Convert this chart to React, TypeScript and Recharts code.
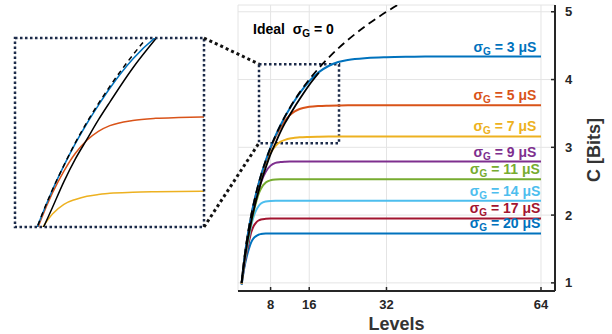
import React from 'react';
import { LineChart, Line, XAxis, YAxis, CartesianGrid, ReferenceArea } from 'recharts';

// quantization levels (x) and capacity in bits (y)
const levels = [2, 2.5, 3, 3.5, 4, 4.5, 5, 5.5, 6, 7, 8, 9, 10, 11, 12, 13, 14, 16, 18, 20, 22, 24, 28, 32, 36, 40, 48, 56, 64];

const ideal = [1, 1.32, 1.585, 1.807, 2, 2.17, 2.32, 2.46, 2.585, 2.807, 3, 3.17, 3.32, 3.46, 3.585, 3.7, 3.807, 4, 4.17, 4.32, 4.46, 4.585, 4.807, 5, 5.17, 5.32, 5.585, 5.807, 6];
const measured = [1, 1.28, 1.52, 1.73, 1.91, 2.07, 2.22, 2.35, 2.48, 2.7, 2.9, 3.06, 3.22, 3.36, 3.48, 3.6, 3.71, 3.92, 4.1, null, null, null, null, null, null, null, null, null, null];

const sigma3 = [1, 1.32, 1.584, 1.806, 2, 2.17, 2.32, 2.46, 2.584, 2.806, 2.998, 3.168, 3.318, 3.455, 3.578, 3.69, 3.795, 3.975, 4.11, 4.2, 4.26, 4.29, 4.318, 4.33, 4.336, 4.339, 4.34, 4.34, 4.34];
const sigma5 = [1, 1.32, 1.58, 1.8, 1.99, 2.16, 2.31, 2.45, 2.575, 2.79, 2.985, 3.15, 3.285, 3.395, 3.475, 3.53, 3.565, 3.597, 3.61, 3.615, 3.618, 3.62, 3.62, 3.62, 3.62, 3.62, 3.62, 3.62, 3.62];
const sigma7 = [0.99, 1.31, 1.57, 1.79, 1.98, 2.15, 2.3, 2.43, 2.56, 2.77, 2.92, 3.02, 3.08, 3.11, 3.13, 3.14, 3.148, 3.154, 3.157, 3.159, 3.16, 3.16, 3.16, 3.16, 3.16, 3.16, 3.16, 3.16, 3.16];
const sigma9 = [0.99, 1.3, 1.55, 1.76, 1.94, 2.1, 2.24, 2.37, 2.48, 2.64, 2.73, 2.77, 2.783, 2.788, 2.79, 2.79, 2.79, 2.79, 2.79, 2.79, 2.79, 2.79, 2.79, 2.79, 2.79, 2.79, 2.79, 2.79, 2.79];
const sigma11 = [0.99, 1.28, 1.51, 1.71, 1.89, 2.05, 2.19, 2.31, 2.39, 2.48, 2.515, 2.527, 2.53, 2.53, 2.53, 2.53, 2.53, 2.53, 2.53, 2.53, 2.53, 2.53, 2.53, 2.53, 2.53, 2.53, 2.53, 2.53, 2.53];
const sigma14 = [0.98, 1.25, 1.47, 1.66, 1.85, 1.98, 2.07, 2.13, 2.17, 2.2, 2.208, 2.21, 2.21, 2.21, 2.21, 2.21, 2.21, 2.21, 2.21, 2.21, 2.21, 2.21, 2.21, 2.21, 2.21, 2.21, 2.21, 2.21, 2.21];
const sigma17 = [0.98, 1.23, 1.43, 1.6, 1.75, 1.84, 1.89, 1.92, 1.935, 1.945, 1.95, 1.95, 1.95, 1.95, 1.95, 1.95, 1.95, 1.95, 1.95, 1.95, 1.95, 1.95, 1.95, 1.95, 1.95, 1.95, 1.95, 1.95, 1.95];
const sigma20 = [0.97, 1.2, 1.37, 1.5, 1.6, 1.66, 1.69, 1.71, 1.72, 1.728, 1.73, 1.73, 1.73, 1.73, 1.73, 1.73, 1.73, 1.73, 1.73, 1.73, 1.73, 1.73, 1.73, 1.73, 1.73, 1.73, 1.73, 1.73, 1.73];

const xTicks = [8, 16, 32, 64];
const yTicks = [1, 2, 3, 4, 5];

// drawn bottom-up so σ=3 ends on top
const series = [
  { key: 's20', name: '20', color: '#0072BD', values: sigma20 },
  { key: 's17', name: '17', color: '#A2142F', values: sigma17 },
  { key: 's14', name: '14', color: '#4DBEEE', values: sigma14 },
  { key: 's11', name: '11', color: '#77AC30', values: sigma11 },
  { key: 's9', name: '9', color: '#7E2F8E', values: sigma9 },
  { key: 's7', name: '7', color: '#EDB120', values: sigma7 },
  { key: 's5', name: '5', color: '#D95319', values: sigma5 },
  { key: 's3', name: '3', color: '#0072BD', values: sigma3 },
];

const rows = levels.map((L, i) => {
  const row: Record<string, number | null> = { L, ideal: ideal[i], measured: measured[i] };
  series.forEach(s => { row[s.key] = s.values[i]; });
  return row;
});

const FONT = '"Liberation Sans", Arial, Helvetica, sans-serif';
const AXIS = '#262626';
const GRID = '#e4e4e4';
const NAVY = '#1c2b4a';

const tickStyle = { fill: AXIS, fontSize: 13, fontWeight: 'bold', fontFamily: FONT };

function sigmaLabel(text: string, color: string) {
  return (props: any) => {
    const { x, y, index } = props;
    const last = index === levels.length - 1 || (index == null && x > 535);
    if (!last) return <g key={`e-${index}`} />;
    return (
      <text key={`l-${text}`} x={x - 36} y={y - 5} textAnchor="middle" fill={color}
        fontFamily={FONT} fontWeight="bold" fontSize={14}>
        σ<tspan fontSize={10} dy={3}>G</tspan><tspan dy={-3}>{` = ${text} μS`}</tspan>
      </text>
    );
  };
}

const levelsTitle = (props: any) => {
  const vb = props.viewBox || { x: 238, y: 291, width: 317, height: 20 };
  return (
    <text x={vb.x + vb.width / 2} y={vb.y + vb.height + 18.5} textAnchor="middle"
      fill="#333" fontFamily={FONT} fontWeight="bold" fontSize={18}>Levels</text>
  );
};

const bitsTitle = (props: any) => {
  const vb = props.viewBox || { x: 555, y: 5, width: 30, height: 286 };
  const cx = vb.x + vb.width + 9;
  const cy = 150;
  return (
    <text x={cx} y={cy} transform={`rotate(-90 ${cx} ${cy})`} textAnchor="middle" dominantBaseline="central"
      fill="#333" fontFamily={FONT} fontWeight="bold" fontSize={18}>C [Bits]</text>
  );
};

export default function App() {
  return (
    <div style={{ position: 'absolute', left: 0, top: 0, width: 612, height: 334, background: '#fff' }}>
      {/* main plot */}
      <LineChart width={612} height={334} data={rows} margin={{ top: 5, right: 27, bottom: 23, left: 238 }}>
        <CartesianGrid stroke={GRID} />
        <XAxis dataKey="L" type="number" domain={[1.25, 66.9]} allowDataOverflow ticks={xTicks} interval={0}
          height={20} tickSize={-4} tickMargin={13} tick={tickStyle}
          axisLine={{ stroke: AXIS, strokeWidth: 2 }} tickLine={{ stroke: AXIS, strokeWidth: 1.5 }}
          label={levelsTitle} />
        <XAxis xAxisId="top" orientation="top" type="number" domain={[1.25, 66.9]} allowDataOverflow ticks={xTicks}
          interval={0} height={0} tickSize={-4} tickFormatter={() => ''}
          axisLine={{ stroke: AXIS, strokeWidth: 2 }} tickLine={{ stroke: AXIS, strokeWidth: 1.5 }} />
        <YAxis orientation="right" type="number" domain={[0.88, 5.1]} allowDataOverflow ticks={yTicks} interval={0}
          width={30} tickSize={-4} tickMargin={14} tick={tickStyle}
          axisLine={{ stroke: AXIS, strokeWidth: 2 }} tickLine={{ stroke: AXIS, strokeWidth: 1.5 }}
          label={bitsTitle} />
        <YAxis yAxisId="left" orientation="left" type="number" domain={[0.88, 5.1]} allowDataOverflow ticks={yTicks}
          interval={0} width={0} tickSize={-4} tickFormatter={() => ''}
          axisLine={{ stroke: AXIS, strokeWidth: 2 }} tickLine={{ stroke: AXIS, strokeWidth: 1.5 }} />
        {series.map(s => (
          <Line key={s.key} dataKey={s.key} type="monotone" stroke={s.color} strokeWidth={2} dot={false}
            isAnimationActive={false} label={sigmaLabel(s.name, s.color)} />
        ))}
        <Line dataKey="measured" type="monotone" stroke="#000" strokeWidth={1.8} dot={false} isAnimationActive={false} />
        <Line dataKey="ideal" type="monotone" stroke="#000" strokeWidth={1.8} strokeDasharray="8 5" dot={false}
          isAnimationActive={false} />
        <ReferenceArea x1={5.6} x2={22.17} y1={3.06} y2={4.225} fill="none" fillOpacity={0} stroke={NAVY}
          strokeWidth={2.5} strokeDasharray="2.5 2.5" ifOverflow="visible" />
      </LineChart>

      {/* zoomed inset */}
      <div style={{ position: 'absolute', left: 15, top: 38, width: 189, height: 189, background: '#fff' }}>
        <LineChart width={189} height={189} data={rows} margin={{ top: 0, right: 0, bottom: 0, left: 0 }}>
          <CartesianGrid stroke={GRID} />
          <XAxis dataKey="L" type="number" domain={[5.74, 22.2]} allowDataOverflow ticks={[8, 16]} height={0}
            tick={false} axisLine={false} tickLine={false} />
          <YAxis type="number" domain={[2.94, 4.105]} allowDataOverflow ticks={[3, 4]} width={0}
            tick={false} axisLine={false} tickLine={false} />
          {series.map(s => (
            <Line key={s.key} dataKey={s.key} type="monotone" stroke={s.color} strokeWidth={1.5} dot={false}
              isAnimationActive={false} />
          ))}
          <Line dataKey="measured" type="monotone" stroke="#000" strokeWidth={1.5} dot={false} isAnimationActive={false} />
          <Line dataKey="ideal" type="monotone" stroke="#000" strokeWidth={1.5} strokeDasharray="5 4" dot={false}
            isAnimationActive={false} />
        </LineChart>
      </div>

      {/* inset frame, connectors and annotation */}
      <svg width={612} height={334} style={{ position: 'absolute', left: 0, top: 0, pointerEvents: 'none' }}>
        <rect x={15} y={38} width={189} height={189} fill="none" stroke={NAVY} strokeWidth={2.5} strokeDasharray="2.5 2.5" />
        <line x1={204} y1={38} x2={259} y2={64} stroke="#111" strokeWidth={3} strokeDasharray="3 3" />
        <line x1={204} y1={227} x2={259} y2={143} stroke="#111" strokeWidth={3} strokeDasharray="3 3" />
        <text x={253} y={34} fill="#000" fontFamily={FONT} fontWeight="bold" fontSize={14}>
          {'Ideal\u00a0\u00a0σ'}<tspan fontSize={10} dy={3}>G</tspan><tspan dy={-3}> = 0</tspan>
        </text>
      </svg>
    </div>
  );
}
